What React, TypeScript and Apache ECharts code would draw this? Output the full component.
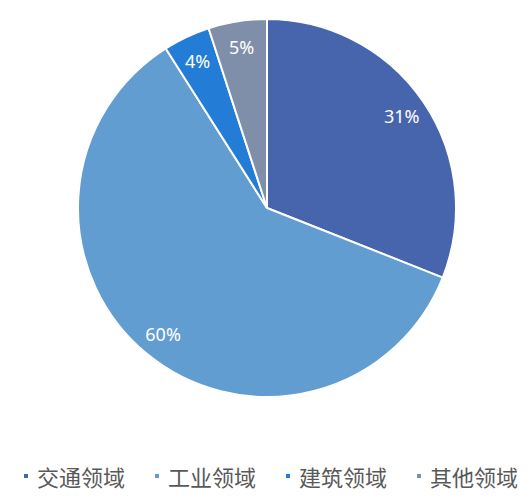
import React, { useEffect, useRef } from 'react';
import * as echarts from 'echarts';

// 各领域占比
const categories = ['交通领域', '工业领域', '建筑领域', '其他领域'];
const shares = [31, 60, 4, 5];
const colors = ['#4765AD', '#629DD1', '#237CD6', '#7F8FA9'];

const App: React.FC = () => {
  const chartRef = useRef<HTMLDivElement>(null);

  useEffect(() => {
    if (!chartRef.current) return;
    const chart = echarts.init(chartRef.current, undefined, { renderer: 'svg' });

    const data = categories.map((name, i) => ({
      name,
      value: shares[i],
      itemStyle: { color: colors[i] }
    }));

    const option: echarts.EChartsOption = {
      animation: false,
      legend: {
        data: categories.map((name, i) => ({ name, itemStyle: { color: colors[i] } })),
        left: 22,
        top: 465,
        width: 509,
        padding: 0,
        icon: 'rect',
        itemWidth: 6,
        itemHeight: 6,
        itemGap: 28,
        textStyle: {
          fontSize: 22,
          color: '#595959',
          fontFamily: 'Noto Sans CJK SC',
          padding: [0, 0, 0, 3]
        }
      },
      series: [
        {
          type: 'pie',
          center: [267, 208],
          radius: 189,
          startAngle: 90,
          clockwise: true,
          label: { show: false },
          labelLine: { show: false },
          itemStyle: { borderColor: '#ffffff', borderWidth: 2 },
          emphasis: { disabled: true },
          data
        },
        {
          // 透明圆环，只用来放置百分比标签
          type: 'pie',
          center: [267, 208],
          radius: [131, 189],
          startAngle: 90,
          clockwise: true,
          silent: true,
          itemStyle: { color: 'transparent', borderWidth: 0 },
          label: {
            show: true,
            position: 'inside',
            formatter: '{c}%',
            color: '#ffffff',
            fontSize: 18,
            fontFamily: 'Noto Sans'
          },
          labelLine: { show: false },
          emphasis: { disabled: true },
          data: categories.map((name, i) => ({ name, value: shares[i] }))
        }
      ]
    };

    chart.setOption(option);
    return () => {
      chart.dispose();
    };
  }, []);

  return (
    <div
      ref={chartRef}
      style={{ position: 'absolute', left: 0, top: 0, width: '531px', height: '499px' }}
    />
  );
};

export default App;
